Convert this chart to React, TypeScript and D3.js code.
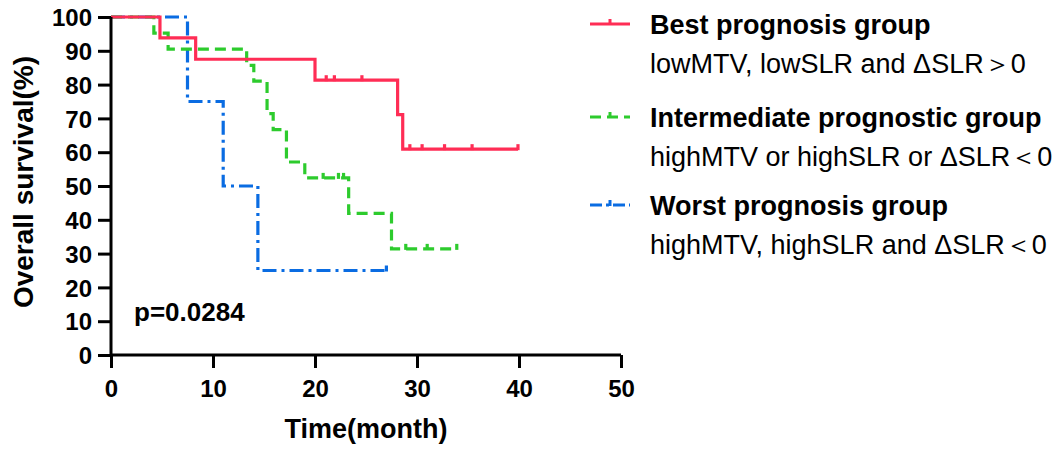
import React, { useEffect, useRef } from 'react'
import * as d3 from 'd3'

// Kaplan-Meier steps (time in months, survival in %)
const bestDrops = [4.8, 8.3, 20.0, 28.1, 28.6]
const bestLevels = [93.8, 87.5, 81.3, 71.1, 60.9]
const bestCensors = [21.1, 21.9, 24.6, 29.3, 30.5, 32.7, 35.4, 39.9]
const bestEnd = 39.9

const midDrops = [4.2, 5.6, 13.3, 14.0, 15.3, 15.9, 17.2, 19.0, 23.3, 27.5]
const midLevels = [95.2, 90.5, 85.7, 81.0, 71.4, 66.7, 57.1, 52.4, 41.9, 31.4]
const midCensors = [20.8, 22.3, 22.8, 28.9, 31.0, 33.9]
const midEnd = 33.9

const worstDrops = [7.5, 11.0, 14.4]
const worstLevels = [75, 50, 25]
const worstCensors = [27.0]
const worstEnd = 27.0

const xTicks = [0, 10, 20, 30, 40, 50]
const yTicks = [0, 10, 20, 30, 40, 50, 60, 70, 80, 90, 100]

const groupNames = ['Best prognosis group', 'Intermediate prognostic group', 'Worst prognosis group']
const groupNotes = [
  'lowMTV, lowSLR and ΔSLR＞0',
  'highMTV or highSLR or ΔSLR＜0',
  'highMTV, highSLR and ΔSLR＜0',
]
const pValue = 'p=0.0284'

const colors = ['#FF2D55', '#2DCB2D', '#0A6CE2']
const dashes = ['none', '11,6', '14,5,3,5']

const W = 1063
const H = 449
const margin = { top: 17, right: 442, bottom: 94, left: 111 }
const FONT = '"Liberation Sans", Arial, sans-serif'

interface Group {
  drops: number[]
  levels: number[]
  censors: number[]
  end: number
}

const groups: Group[] = [
  { drops: bestDrops, levels: bestLevels, censors: bestCensors, end: bestEnd },
  { drops: midDrops, levels: midLevels, censors: midCensors, end: midEnd },
  { drops: worstDrops, levels: worstLevels, censors: worstCensors, end: worstEnd },
]

// survival level at time t for a group
const levelAt = (g: Group, t: number) => {
  let s = 100
  g.drops.forEach((d, i) => {
    if (d <= t) s = g.levels[i]
  })
  return s
}

const App: React.FC = () => {
  const svgRef = useRef<SVGSVGElement | null>(null)

  useEffect(() => {
    document.body.style.margin = '0'
    if (!svgRef.current) return
    const svg = d3.select(svgRef.current)
    svg.selectAll('*').remove()

    const x = d3.scaleLinear().domain([0, 50]).range([margin.left, W - margin.right])
    const y = d3.scaleLinear().domain([0, 100]).range([H - margin.bottom, margin.top])

    // curves, worst first so best sits on top
    const line = d3
      .line<[number, number]>()
      .x((d) => x(d[0]))
      .y((d) => y(d[1]))
      .curve(d3.curveStepAfter)

    const order = [2, 1, 0]
    order.forEach((gi) => {
      const g = groups[gi]
      const pts: [number, number][] = [[0, 100]]
      g.drops.forEach((d, i) => pts.push([d, g.levels[i]]))
      pts.push([g.end, g.levels[g.levels.length - 1]])

      svg
        .append('path')
        .attr('d', line(pts))
        .attr('fill', 'none')
        .attr('stroke', colors[gi])
        .attr('stroke-width', 3.2)
        .attr('stroke-dasharray', dashes[gi])

      svg
        .append('g')
        .selectAll('line')
        .data(g.censors)
        .join('line')
        .attr('x1', (d) => x(d))
        .attr('x2', (d) => x(d))
        .attr('y1', (d) => y(levelAt(g, d)) + 1)
        .attr('y2', (d) => y(levelAt(g, d)) - 5)
        .attr('stroke', colors[gi])
        .attr('stroke-width', 3.2)
    })

    // axes
    const xAxis = svg
      .append('g')
      .attr('transform', `translate(0,${H - margin.bottom})`)
      .call(d3.axisBottom(x).tickValues(xTicks).tickSize(13).tickPadding(6))
    const yAxis = svg
      .append('g')
      .attr('transform', `translate(${margin.left},0)`)
      .call(d3.axisLeft(y).tickValues(yTicks).tickSize(13).tickPadding(6))

    ;[xAxis, yAxis].forEach((ax) => {
      ax.select('.domain').attr('stroke', '#000').attr('stroke-width', 3)
      ax.selectAll('.tick line').attr('stroke', '#000').attr('stroke-width', 3)
      ax.selectAll('.tick text')
        .attr('fill', '#000')
        .style('font-family', FONT)
        .style('font-size', '24px')
        .style('font-weight', 'bold')
    })
    xAxis.selectAll('.tick text').attr('dy', '0.95em')
    yAxis.selectAll('.tick text').attr('dy', '0.36em')
    // axis lines without end caps from d3's outer ticks
    xAxis.select('.domain').attr('d', `M${x(0)},0H${x(50)}`)
    yAxis.select('.domain').attr('d', `M0,${y(0)}V${y(100)}`)

    // axis titles
    svg
      .append('text')
      .attr('x', (x(0) + x(50)) / 2)
      .attr('y', 438)
      .attr('text-anchor', 'middle')
      .style('font-family', FONT)
      .style('font-size', '27px')
      .style('font-weight', 'bold')
      .text('Time(month)')

    svg
      .append('text')
      .attr('transform', `translate(33,${(y(0) + y(100)) / 2 - 4}) rotate(-90)`)
      .attr('text-anchor', 'middle')
      .style('font-family', FONT)
      .style('font-size', '28px')
      .style('font-weight', 'bold')
      .text('Overall survival(%)')

    svg
      .append('text')
      .attr('x', 134)
      .attr('y', 321)
      .style('font-family', FONT)
      .style('font-size', '26px')
      .style('font-weight', 'bold')
      .text(pValue)

    // legend
    const legendY = [24, 117, 205]
    groupNames.forEach((name, i) => {
      const ly = legendY[i]
      const lg = svg.append('g')
      lg.append('line')
        .attr('x1', 590)
        .attr('x2', 630)
        .attr('y1', ly)
        .attr('y2', ly)
        .attr('stroke', colors[i])
        .attr('stroke-width', 3)
        .attr('stroke-dasharray', i === 0 ? 'none' : i === 1 ? '11,6' : '12,4,3,4')
      lg.append('line')
        .attr('x1', 610)
        .attr('x2', 610)
        .attr('y1', ly + 1)
        .attr('y2', ly - 5)
        .attr('stroke', colors[i])
        .attr('stroke-width', 3)
      lg.append('text')
        .attr('x', 650)
        .attr('y', ly + 10)
        .style('font-family', FONT)
        .style('font-size', '27px')
        .style('font-weight', 'bold')
        .text(name)
      lg.append('text')
        .attr('x', 650)
        .attr('y', ly + 49)
        .style('font-family', FONT)
        .style('font-size', '27px')
        .text(groupNotes[i])
    })
  }, [])

  return <svg ref={svgRef} width={W} height={H} style={{ display: 'block', background: '#fff' }}></svg>
}

export default App
